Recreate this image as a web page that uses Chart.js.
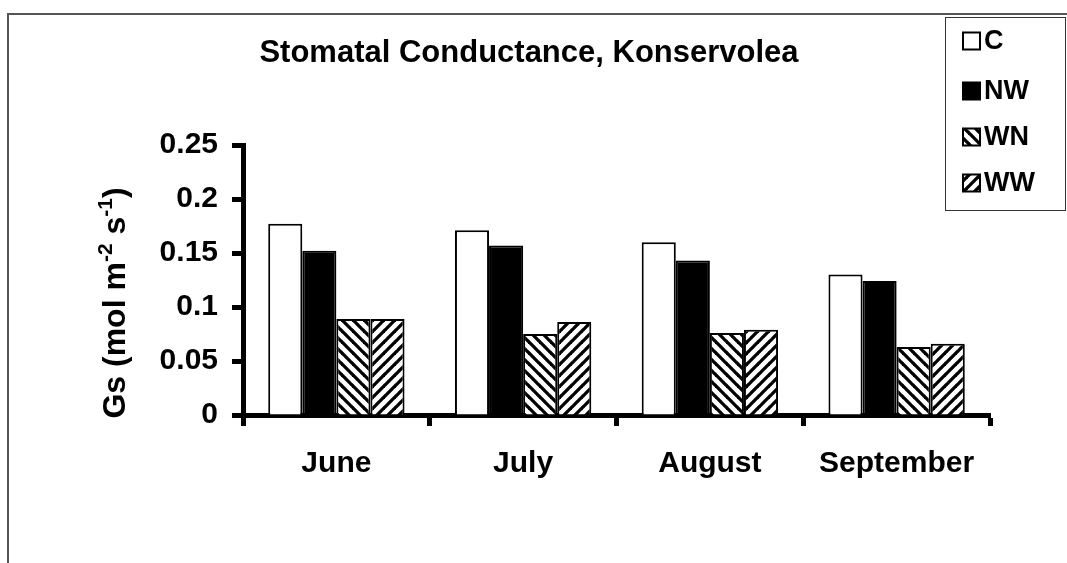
<!DOCTYPE html>
<html>
<head>
<meta charset="utf-8">
<script src="https://cdn.jsdelivr.net/npm/chart.js@4/dist/chart.umd.min.js"></script>
<style>
	body { margin: 0; background: #fff; }
	#wrap { width: 1067px; height: 563px; }
</style>
</head>
<body>
<div id="wrap"><canvas id="gs" width="1067" height="563"></canvas></div>
<script>
// Data
const months = ["June", "July", "August", "September"];
const cValues = [0.177, 0.171, 0.160, 0.130];
const nwValues = [0.152, 0.157, 0.143, 0.124];
const wnValues = [0.089, 0.075, 0.076, 0.063];
const wwValues = [0.089, 0.086, 0.079, 0.066];
const yTicks = [0, 0.05, 0.1, 0.15, 0.2, 0.25];

const fontFam = "'Liberation Sans', Arial, sans-serif";

// hatch fill, dir "back" = \\\ and "fwd" = ///
function makeHatch(dir) {
	const s = 11;
	const c = document.createElement("canvas");
	c.width = s;
	c.height = s;
	const g = c.getContext("2d");
	g.fillStyle = "#fff";
	g.fillRect(0, 0, s, s);
	g.strokeStyle = "#000";
	g.lineWidth = 3.3;
	[-s, 0, s].forEach(o => {
		g.beginPath();
		if (dir === "back") {
			g.moveTo(o - 1, -1);
			g.lineTo(o + s + 1, s + 1);
		} else {
			g.moveTo(o - 1, s + 1);
			g.lineTo(o + s + 1, -1);
		}
		g.stroke();
	});
	return g.createPattern(c, "repeat");
}

const hatchBack = makeHatch("back");
const hatchFwd = makeHatch("fwd");

const legendItems = [
	{ label: "C", fill: "#fff" },
	{ label: "NW", fill: "#000" },
	{ label: "WN", fill: hatchBack },
	{ label: "WW", fill: hatchFwd },
];

const extras = {
	id: "extras",
	beforeDraw(chart) {
		const ctx = chart.ctx;
		ctx.save();
		ctx.fillStyle = "#fff";
		ctx.fillRect(0, 0, chart.width, chart.height);
		// outer frame (top + left only visible)
		ctx.strokeStyle = "#555";
		ctx.lineWidth = 2;
		ctx.beginPath();
		ctx.moveTo(8, 563);
		ctx.lineTo(8, 14);
		ctx.lineTo(1067, 14);
		ctx.stroke();
		ctx.restore();
	},
	afterDraw(chart) {
		const ctx = chart.ctx;
		ctx.save();
		ctx.fillStyle = "#000";

		// title
		ctx.font = `bold 31px ${fontFam}`;
		ctx.textAlign = "center";
		ctx.textBaseline = "alphabetic";
		ctx.fillText("Stomatal Conductance, Konservolea", 529, 62);

		// y axis title with superscripts
		ctx.translate(125, 303);
		ctx.rotate(-Math.PI / 2);
		const parts = [
			{ t: "Gs (mol m", sup: false },
			{ t: "-2", sup: true },
			{ t: " s", sup: false },
			{ t: "-1", sup: true },
			{ t: ")", sup: false },
		];
		let total = 0;
		parts.forEach(p => {
			ctx.font = p.sup ? `bold 21px ${fontFam}` : `bold 32px ${fontFam}`;
			p.w = ctx.measureText(p.t).width;
			total += p.w;
		});
		let x = -total / 2;
		ctx.textAlign = "left";
		parts.forEach(p => {
			ctx.font = p.sup ? `bold 21px ${fontFam}` : `bold 32px ${fontFam}`;
			ctx.fillText(p.t, x, p.sup ? -13 : 0);
			x += p.w;
		});
		ctx.restore();

		// legend
		ctx.save();
		ctx.strokeStyle = "#333";
		ctx.lineWidth = 1;
		ctx.strokeRect(945.5, 17.5, 120, 193);
		const rows = [41, 91, 137, 183];
		ctx.font = `bold 27px ${fontFam}`;
		ctx.textBaseline = "middle";
		ctx.textAlign = "left";
		legendItems.forEach((item, i) => {
			const cy = rows[i];
			ctx.fillStyle = item.fill;
			ctx.fillRect(963, cy - 8.5, 17, 17);
			ctx.strokeStyle = "#000";
			ctx.lineWidth = 2;
			ctx.strokeRect(963, cy - 8.5, 17, 17);
			ctx.fillStyle = "#000";
			ctx.fillText(item.label, 984, cy + 1);
		});
		ctx.restore();
	},
};

const barCommon = {
	borderColor: "#000",
	borderWidth: 2,
	barPercentage: 1,
	categoryPercentage: 0.73,
};

new Chart(document.getElementById("gs"), {
	type: "bar",
	data: {
		labels: months,
		datasets: [
			{ label: "C", data: cValues, backgroundColor: "#fff", ...barCommon },
			{ label: "NW", data: nwValues, backgroundColor: "#000", ...barCommon },
			{ label: "WN", data: wnValues, backgroundColor: hatchBack, ...barCommon },
			{ label: "WW", data: wwValues, backgroundColor: hatchFwd, ...barCommon },
		],
	},
	options: {
		responsive: false,
		animation: false,
		layout: {
			padding: { top: 145, right: 77, left: 0, bottom: 0 },
		},
		plugins: {
			legend: { display: false },
			title: { display: false },
			tooltip: { enabled: false },
		},
		scales: {
			x: {
				grid: {
					display: true,
					drawOnChartArea: false,
					drawTicks: true,
					offset: true,
					tickLength: 11,
					tickWidth: 5,
					tickColor: "#000",
				},
				border: { display: true, width: 5, color: "#000" },
				ticks: {
					color: "#000",
					font: { family: fontFam, size: 30, weight: "bold" },
					padding: 20,
					maxRotation: 0,
				},
				afterFit: s => {
					s.height = 148;
				},
			},
			y: {
				min: 0,
				max: 0.25,
				afterBuildTicks: s => {
					s.ticks = yTicks.map(v => ({ value: v }));
				},
				grid: {
					display: true,
					drawOnChartArea: false,
					drawTicks: true,
					tickLength: 11,
					tickWidth: 5,
					tickColor: "#000",
				},
				border: { display: true, width: 5, color: "#000" },
				ticks: {
					color: "#000",
					font: { family: fontFam, size: 30, weight: "bold" },
					padding: 14,
					callback: v => String(parseFloat(v.toFixed(2))),
				},
				afterFit: s => {
					s.width = 243;
				},
			},
		},
	},
	plugins: [extras],
});
</script>
</body>
</html>
